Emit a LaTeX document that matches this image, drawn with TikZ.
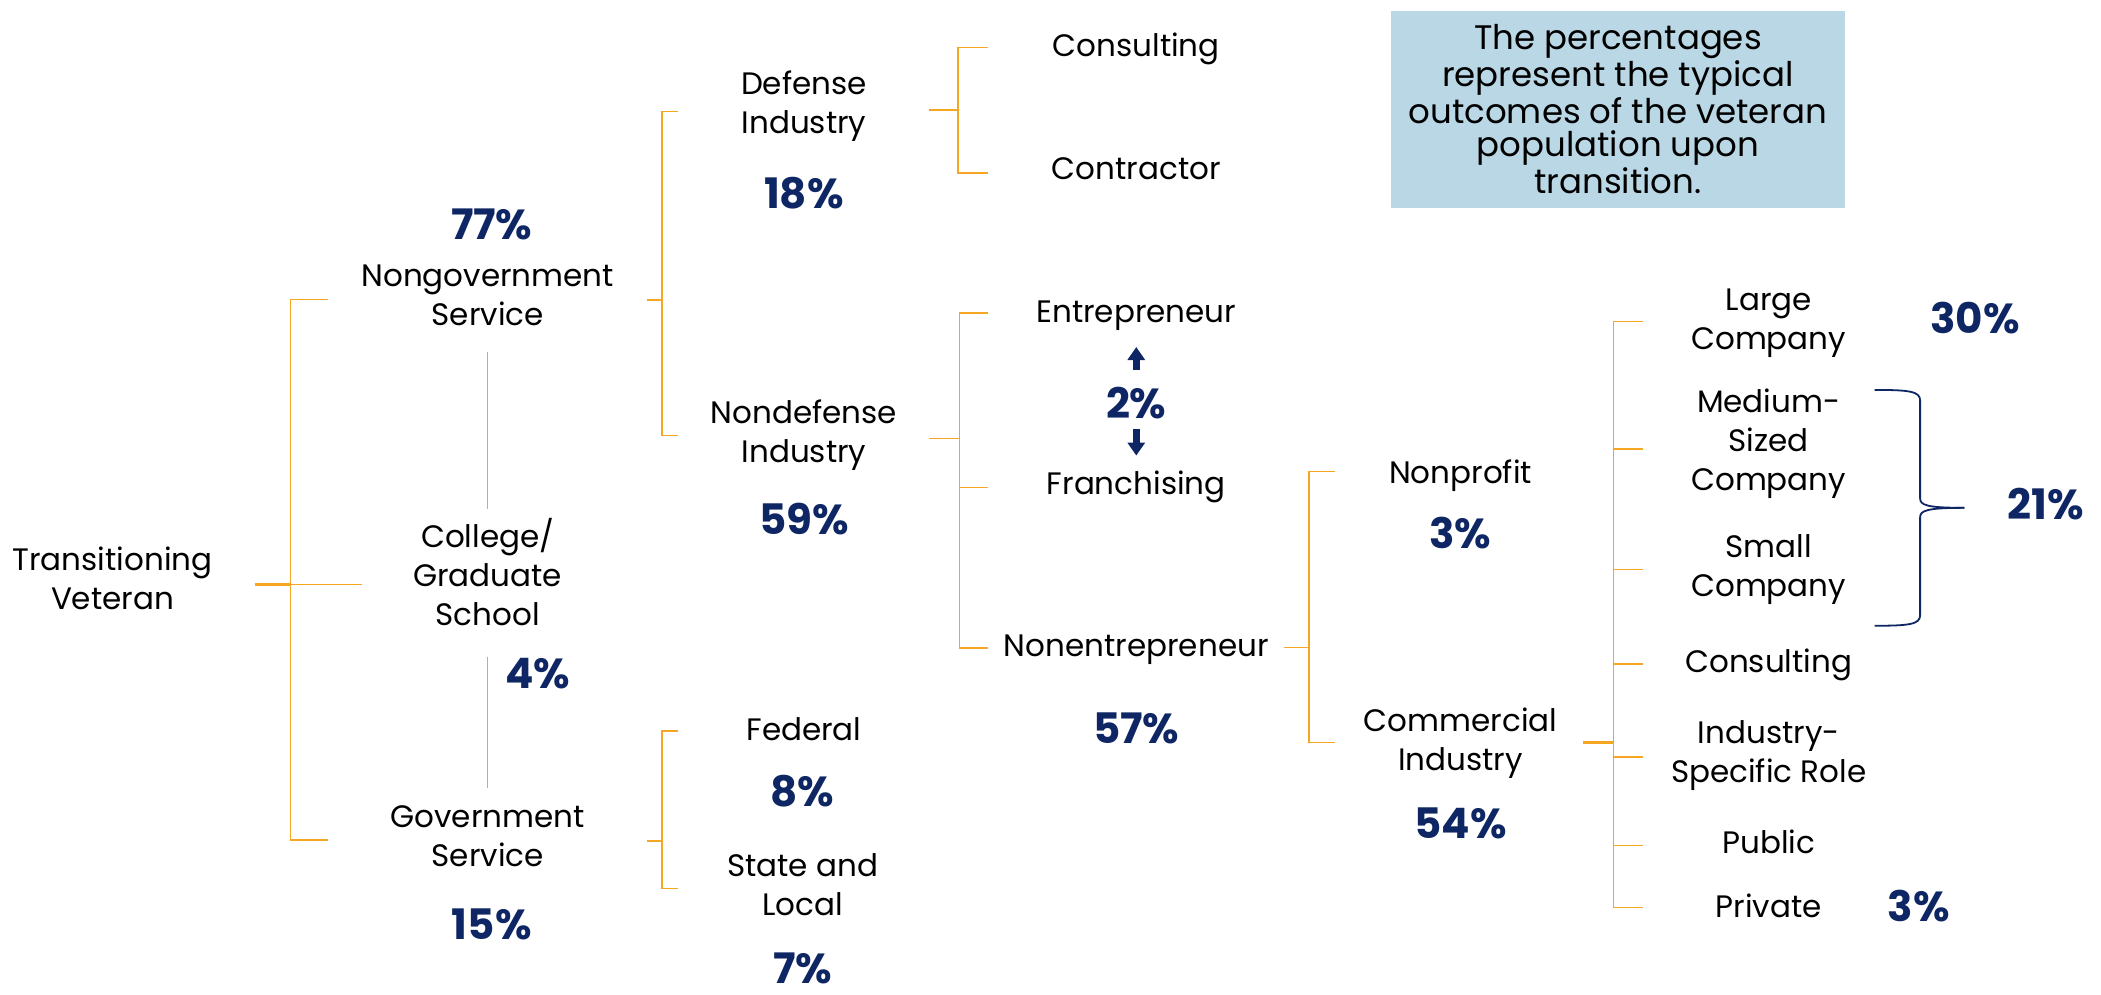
\documentclass[tikz,border=0pt]{standalone}
\usepackage{fontspec}
\setmainfont{Poppins}
\usetikzlibrary{arrows.meta}
\definecolor{orl}{RGB}{245,166,35}
\definecolor{navy}{RGB}{14,38,100}
\definecolor{boxblue}{RGB}{186,215,229}
\begin{document}
\begin{tikzpicture}[x=0.67pt,y=-0.67pt,
 lbl/.style={font=\fontsize{15.5}{19.5}\selectfont, align=center, inner sep=0, anchor=base},
 pct/.style={font=\fontsize{21}{24}\selectfont\bfseries, text=navy, inner sep=0, anchor=base},
 br/.style={draw=orl, line width=0.65pt},
 brk/.style={draw=orl, line width=1.3pt},
 brace/.style={draw=navy, line width=0.9pt},
 updown/.style={draw=navy, line width=3.3pt, -{Triangle[length=6.5pt, width=8.5pt]}},
]
\useasboundingbox (0,0) rectangle (1568,742);

% note box
\node[fill=boxblue, minimum width=227.1pt, minimum height=98.5pt, inner sep=0,
      align=center, font=\fontsize{17}{16.75}\selectfont] (note) at (1207.5,81.5)
  {The percentages\\represent the typical\\outcomes of the veteran\\population upon\\transition.};

% labels (anchor base = baseline of the last line)
\node[lbl] (tv) at (84,455) {Transitioning\\Veteran};
\node[lbl] (ng) at (364,243) {Nongovernment\\Service};
\node[pct] (p77) at (367,179) {77\%};
\node[lbl] (cg) at (364,467) {College/\\Graduate\\School};
\node[pct] (p4) at (401.5,514) {4\%};
\node[lbl] (gs) at (364,647) {Government\\Service};
\node[pct] (p15) at (367,701) {15\%};
\node[lbl] (di) at (600,100) {Defense\\Industry};
\node[pct] (p18) at (600,155.5) {18\%};
\node[lbl] (ndi) at (600,345) {Nondefense\\Industry};
\node[pct] (p59) at (600,399) {59\%};
\node[lbl] (fed) at (600,553) {Federal};
\node[pct] (p8) at (599,602) {8\%};
\node[lbl] (sl) at (599,683) {State and\\Local};
\node[pct] (p7) at (599,734) {7\%};
\node[lbl] (cons1) at (848,42) {Consulting};
\node[lbl] (contr) at (848,134) {Contractor};
\node[lbl] (ent) at (848,241) {Entrepreneur};
\node[pct] (p2) at (848,312) {2\%};
\node[lbl] (fr) at (848,369) {Franchising};
\node[lbl] (nent) at (848,490) {Nonentrepreneur};
\node[pct] (p57) at (848,555) {57\%};
\node[lbl] (np) at (1090,360.5) {Nonprofit};
\node[pct] (p3a) at (1090,409) {3\%};
\node[lbl] (ci) at (1090,575) {Commercial\\Industry};
\node[pct] (p54) at (1090,625.5) {54\%};
\node[lbl] (lc) at (1320,261) {Large\\Company};
\node[pct] (p30) at (1474,249) {30\%};
\node[lbl] (msc) at (1320,366) {Medium-\\Sized\\Company};
\node[lbl] (sc) at (1320,445) {Small\\Company};
\node[lbl] (cons2) at (1320,502) {Consulting};
\node[lbl] (isr) at (1320,584) {Industry-\\Specific Role};
\node[lbl] (pub) at (1320,637) {Public};
\node[lbl] (pri) at (1320,684.5) {Private};
\node[pct] (p3b) at (1432,688) {3\%};
\node[pct] (p21) at (1527,388) {21\%};

% Transitioning bracket
\draw[brk] (190,436) -- (217,436);
\draw[br] (217,436) -- (270,436);
\draw[br] (245,223.5) -- (217,223.5) -- (217,627) -- (245,627);
\draw[br] (364,263) -- (364,380);
\draw[br] (364,490) -- (364,588);
% Nongovernment bracket
\draw[brk] (483,224) -- (494,224);
\draw[br] (506,83) -- (494,83) -- (494,325) -- (506,325);
% Government bracket
\draw[brk] (483,627.5) -- (494,627.5);
\draw[br] (506,545.5) -- (494,545.5) -- (494,663) -- (506,663);
% Defense bracket
\draw[brk] (693,82) -- (715,82);
\draw[br] (737,35.6) -- (715,35.6) -- (715,129) -- (737,129);
% Nondefense bracket
\draw[br] (693,327) -- (716,327);
\draw[br] (737,233.5) -- (716,233.5) -- (716,483.5) -- (737,483.5);
\draw[br] (716,364) -- (737,364);
% Nonentrepreneur bracket
\draw[br] (958,483) -- (977,483);
\draw[br] (996,352) -- (977,352) -- (977,554) -- (996,554);
% Commercial bracket
\draw[brk] (1181.5,554.3) -- (1204,554.3);
\draw[br] (1226,240) -- (1204,240) -- (1204,677.5) -- (1226,677.5);
\foreach \yy in {335,425,495.5,565,631} \draw[br] (1204,\yy) -- (1226,\yy);

% brace
\draw[brace] (1399,291) .. controls (1425,291) and (1433,292) .. (1433,299) -- (1433,372) .. controls (1433,377) and (1438,379) .. (1466,379);
\draw[brace] (1399,467) .. controls (1425,467) and (1433,466) .. (1433,459) -- (1433,386) .. controls (1433,381) and (1438,379) .. (1466,379);

% arrows around 2%
\draw[updown] (848,276) -- (848,259);
\draw[updown] (848,320) -- (848,340);
\end{tikzpicture}
\end{document}
